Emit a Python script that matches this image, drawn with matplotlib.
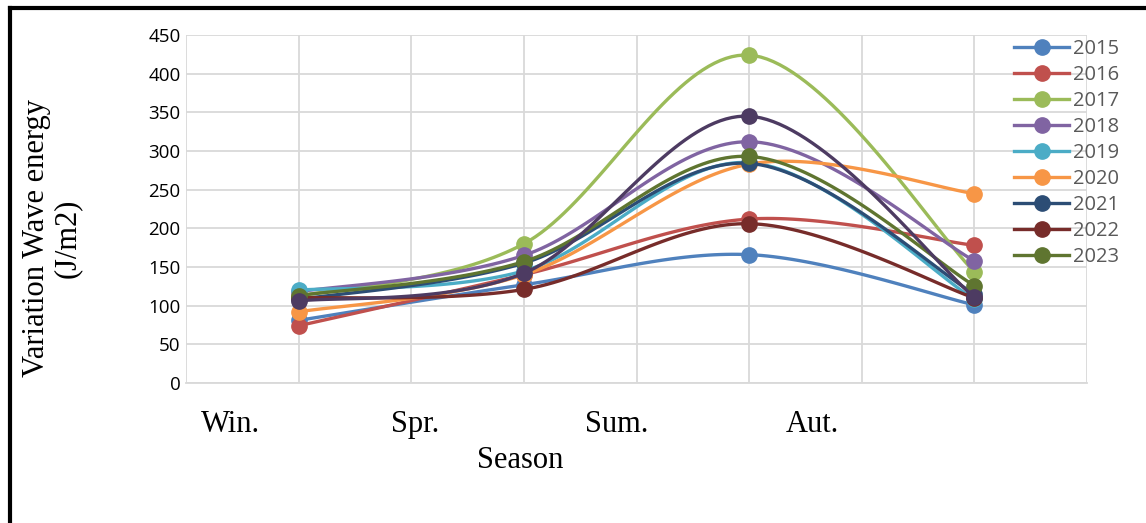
import matplotlib.pyplot as plt
import numpy as np

# seasons and positions of the 4 data points on the 0..8 grid
seasons = ['Win.', 'Spr.', 'Sum.', 'Aut.']
xpos = [1, 3, 5, 7]

years = ['2015', '2016', '2017', '2018', '2019', '2020', '2021', '2022', '2023', '2024']
colors = ['#4F81BD', '#C0504D', '#9BBB59', '#8064A2', '#4BACC6',
          '#F79646', '#2C4D75', '#772C2A', '#5F7530', '#4D3B62']

v2015 = [81, 127, 166, 101]
v2016 = [74, 140, 212, 178]
v2017 = [112, 180, 424, 144]
v2018 = [118, 165, 312, 158]
v2019 = [120, 145, 285, 108]
v2020 = [92, 140, 283, 245]
v2021 = [108, 155, 284, 115]
v2022 = [110, 121, 206, 110]
v2023 = [113, 157, 293, 126]
v2024 = [106, 142, 345, 111]
values = [v2015, v2016, v2017, v2018, v2019, v2020, v2021, v2022, v2023, v2024]


def smooth(x, y, n=40):
    # excel-like smoothing: bezier through points, catmull-rom control points
    x = np.asarray(x, float)
    y = np.asarray(y, float)
    px = np.concatenate([[x[0]], x, [x[-1]]])
    py = np.concatenate([[y[0]], y, [y[-1]]])
    xs, ys = [], []
    t = np.linspace(0, 1, n)
    for i in range(len(x) - 1):
        p0 = np.array([px[i + 1], py[i + 1]])
        p3 = np.array([px[i + 2], py[i + 2]])
        c1 = p0 + (np.array([px[i + 2], py[i + 2]]) - np.array([px[i], py[i]])) / 6
        c2 = p3 - (np.array([px[i + 3], py[i + 3]]) - np.array([px[i + 1], py[i + 1]])) / 6
        bx = (1-t)**3*p0[0] + 3*(1-t)**2*t*c1[0] + 3*(1-t)*t**2*c2[0] + t**3*p3[0]
        by = (1-t)**3*p0[1] + 3*(1-t)**2*t*c1[1] + 3*(1-t)*t**2*c2[1] + t**3*p3[1]
        xs.extend(bx)
        ys.extend(by)
    return xs, ys


fig = plt.figure(figsize=(11.46, 5.23), dpi=100)
ax = fig.add_axes([186/1146, 1 - 383/523, (1087-186)/1146, (383-35)/523])

for yr, col, vals in zip(years, colors, values):
    sx, sy = smooth(xpos, vals)
    lab = yr if yr != '2024' else '_nolegend_'
    ax.plot(sx, sy, color=col, lw=2.4, solid_capstyle='round')
    ax.plot(xpos, vals, 'o', color=col, ms=11)
    ax.plot([], [], '-o', color=col, lw=2.4, ms=11, label=lab)

ax.set_xlim(0, 8)
ax.set_ylim(0, 450)
ax.set_xticks(range(9))
ax.set_yticks(range(0, 451, 50))
ax.set_xticklabels([])
ax.grid(True, color='#D9D9D9', lw=1.3)
ax.set_axisbelow(True)
for s in ['top', 'right', 'left']:
    ax.spines[s].set_visible(False)
ax.spines['bottom'].set_color('#D9D9D9')
ax.spines['bottom'].set_linewidth(1.3)
ax.tick_params(length=0, labelsize=13.5, pad=4)
for t in ax.get_yticklabels():
    t.set_family('Open Sans')

leg = ax.legend(loc='upper left', bbox_to_anchor=(1006/1146, 1 - 31/523),
                bbox_transform=fig.transFigure, frameon=False, fontsize=14.5,
                handlelength=2.75, handletextpad=0.2, labelspacing=0.3,
                borderaxespad=0)
for t in leg.get_texts():
    t.set_color('#595959')
    t.set_family('Open Sans')

# season labels under the axis
seasonx = [230, 415, 617, 812]
for s, px in zip(seasons, seasonx):
    fig.text(px/1146, 1 - 432/523, s, ha='center', va='baseline',
             family='Liberation Serif', fontsize=22)
fig.text(520/1146, 1 - 468/523, 'Season', ha='center', va='baseline',
         family='Liberation Serif', fontsize=22)
fig.text(52/1146, 1 - 238/523, 'Variation Wave energy\n(J/m2)', ha='center',
         va='center', rotation=90, family='Liberation Serif', fontsize=22,
         linespacing=1.1)

# black frame around the figure
fig.add_artist(plt.Line2D([10/1146, 10/1146], [0, 1 - 8/523], color='black',
                          lw=3, transform=fig.transFigure))
fig.add_artist(plt.Line2D([10/1146, 1], [1 - 8/523, 1 - 8/523], color='black',
                          lw=3, transform=fig.transFigure))

fig.savefig('out.png', dpi=100)
